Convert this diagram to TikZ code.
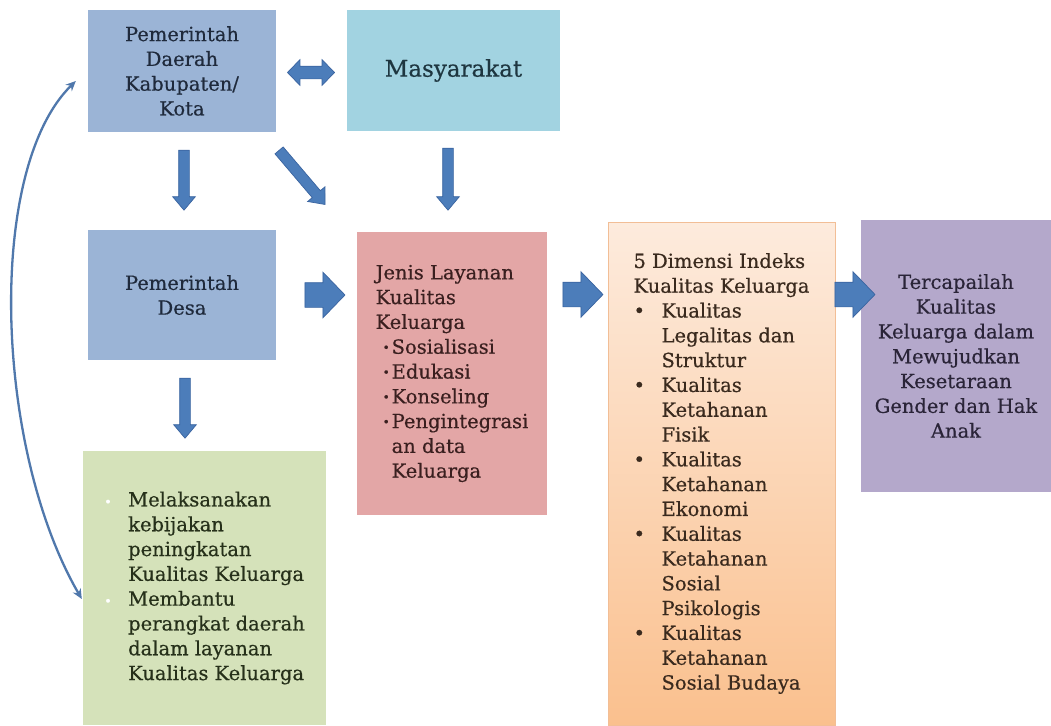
\documentclass[tikz,border=0pt]{standalone}
\usepackage{fontspec}
\setmainfont{DejaVu Serif}[FakeBold=0.5]
\usetikzlibrary{shapes.arrows,arrows.meta}
\definecolor{boxblue}{HTML}{9BB4D6}
\definecolor{boxcyan}{HTML}{A2D3E1}
\definecolor{boxpink}{HTML}{E3A6A6}
\definecolor{boxgreen}{HTML}{D5E2BA}
\definecolor{boxpurple}{HTML}{B4A8CB}
\definecolor{orangetop}{HTML}{FDEBDD}
\definecolor{orangebot}{HTML}{FAC08E}
\definecolor{orangeedge}{HTML}{F2BE96}
\definecolor{arrowfill}{HTML}{4C7DBA}
\definecolor{arrowedge}{HTML}{3A64A0}
\definecolor{curvecol}{HTML}{5078AC}
\definecolor{txtblue}{HTML}{1F2A3C}
\definecolor{txtcyan}{HTML}{1E3640}
\definecolor{txtpink}{HTML}{3A1F1F}
\definecolor{txtgreen}{HTML}{26301A}
\definecolor{txtorange}{HTML}{3A2A1E}
\definecolor{txtpurple}{HTML}{2A2438}
\begin{document}
\begin{tikzpicture}[x=1pt,y=-1pt,
  box/.style={rectangle, inner sep=0pt, font=\fontsize{19.5}{24.8}\selectfont},
  arrowbase/.style={draw=arrowedge, fill=arrowfill, line width=0.7pt, inner xsep=0pt},
  smallarrow/.style={arrowbase, single arrow, inner ysep=5pt, minimum height=#1, single arrow head extend=6pt, single arrow tip angle=80},
  bigarrow/.style={arrowbase, single arrow, inner ysep=12pt, minimum height=40pt, single arrow head extend=10.5pt, single arrow tip angle=92},
  dblarrow/.style={arrowbase, double arrow, inner ysep=6pt, minimum height=47pt, double arrow head extend=6.5pt, double arrow tip angle=92}
]
\useasboundingbox (0,0) rectangle (1051,725);
\fill[white] (0,0) rectangle (1051,725);

% boxes
\node[box, fill=boxblue, text=txtblue, minimum width=188pt, minimum height=122pt, align=center] (pdk) at (182,71)
  {Pemerintah\\Daerah\\Kabupaten/\\Kota};
\node[box, fill=boxcyan, text=txtcyan, minimum width=213pt, minimum height=121pt, font=\fontsize{23}{28}\selectfont] (mas) at (453.5,70.5)
  {Masyarakat};
\node[box, fill=boxblue, text=txtblue, minimum width=188pt, minimum height=130pt, align=center] (desa) at (182,295)
  {Pemerintah\\Desa};
\node[box, fill=boxpink, text=txtpink, minimum width=190pt, minimum height=283pt, align=left] (jenis) at (452,373.5)
  {Jenis Layanan\\Kualitas\\Keluarga\\
   \makebox[16pt][l]{\hspace*{7pt}\raisebox{2pt}{\fontsize{12}{12}\selectfont •}}Sosialisasi\\
   \makebox[16pt][l]{\hspace*{7pt}\raisebox{2pt}{\fontsize{12}{12}\selectfont •}}Edukasi\\
   \makebox[16pt][l]{\hspace*{7pt}\raisebox{2pt}{\fontsize{12}{12}\selectfont •}}Konseling\\
   \makebox[16pt][l]{\hspace*{7pt}\raisebox{2pt}{\fontsize{12}{12}\selectfont •}}Pengintegrasi\\
   \hspace*{16pt}an data\\
   \hspace*{16pt}Keluarga};
\node[box, fill=boxgreen, text=txtgreen, minimum width=243pt, minimum height=274pt, align=left] (green) at (204.5,588)
  {\makebox[24pt][l]{\textcolor{white}{\fontsize{13}{13}\selectfont •}}Melaksanakan\\
   \hspace*{24pt}kebijakan\\
   \hspace*{24pt}peningkatan\\
   \hspace*{24pt}Kualitas Keluarga\\
   \makebox[24pt][l]{\textcolor{white}{\fontsize{13}{13}\selectfont •}}Membantu\\
   \hspace*{24pt}perangkat daerah\\
   \hspace*{24pt}dalam layanan\\
   \hspace*{24pt}Kualitas Keluarga};
\node[box, top color=orangetop, bottom color=orangebot, draw=orangeedge, line width=0.8pt, text=txtorange, minimum width=227pt, minimum height=503pt, align=left] (orange) at (721.5,473.5)
  {5 Dimensi Indeks\\Kualitas Keluarga\\
   \makebox[28pt][l]{•}Kualitas\\\hspace*{28pt}Legalitas dan\\\hspace*{28pt}Struktur\\
   \makebox[28pt][l]{•}Kualitas\\\hspace*{28pt}Ketahanan\\\hspace*{28pt}Fisik\\
   \makebox[28pt][l]{•}Kualitas\\\hspace*{28pt}Ketahanan\\\hspace*{28pt}Ekonomi\\
   \makebox[28pt][l]{•}Kualitas\\\hspace*{28pt}Ketahanan\\\hspace*{28pt}Sosial\\\hspace*{28pt}Psikologis\\
   \makebox[28pt][l]{•}Kualitas\\\hspace*{28pt}Ketahanan\\\hspace*{28pt}Sosial Budaya};
\node[box, fill=boxpurple, text=txtpurple, minimum width=190pt, minimum height=272pt, align=center] (purple) at (956,356)
  {Tercapailah\\Kualitas\\Keluarga dalam\\Mewujudkan\\Kesetaraan\\Gender dan Hak\\Anak};

% block arrows
\node[dblarrow] (a0) at (311,72.5) {};
\node[smallarrow=60pt, rotate=-90] (a1) at (184,177) {};
\node[smallarrow=71pt, rotate=-49.6] (a2) at (300,175) {};
\node[smallarrow=62pt, rotate=-90] (a3) at (448,176) {};
\node[bigarrow] (a4) at (319,295) {};
\node[smallarrow=60pt, rotate=-90] (a5) at (185,405) {};
\node[bigarrow] (a6) at (577,294.5) {};
\node[bigarrow] (a7) at (849,294.5) {};

% curved two-headed connector
\coordinate (ctop) at ([xshift=-12pt,yshift=-10pt]pdk.west);
\coordinate (cbot) at ([xshift=-1pt,yshift=-11pt]green.west);
\draw[curvecol, line width=2.3pt, {Stealth[length=10pt,width=9pt]}-{Stealth[length=10pt,width=9pt]}]
  (ctop) .. controls (-15,170) and (-5,450) .. (cbot);
\end{tikzpicture}
\end{document}
